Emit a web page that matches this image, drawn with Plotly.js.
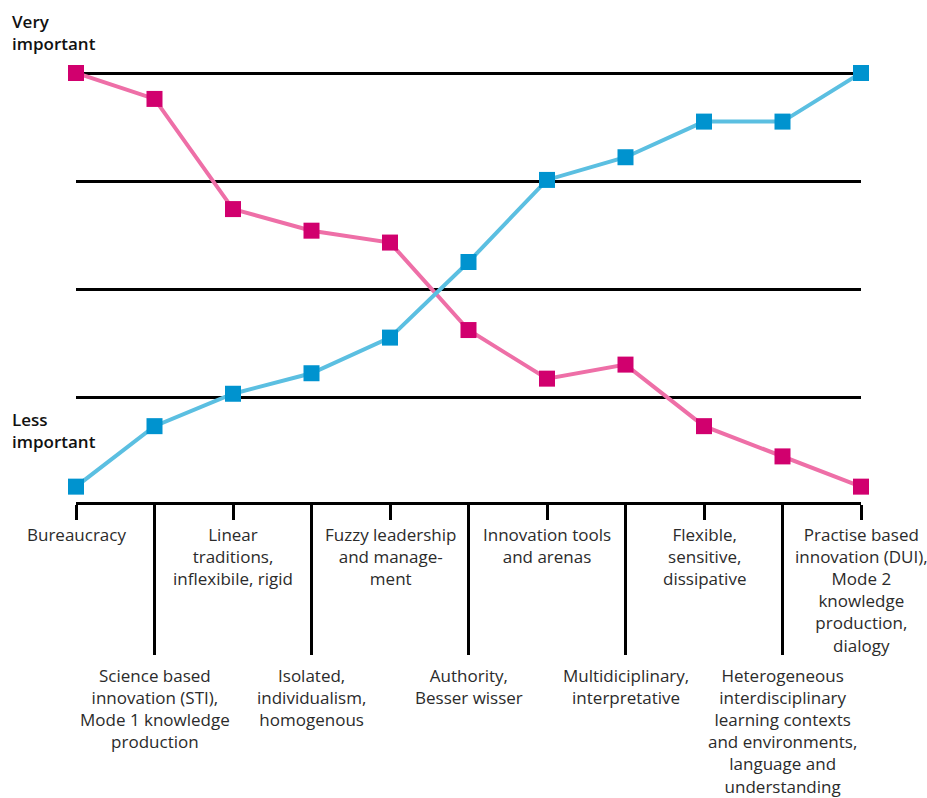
<!DOCTYPE html>
<html><head><meta charset="utf-8">
<script src="https://cdn.plot.ly/plotly-3.0.1.min.js"></script>
<style>html,body{margin:0;padding:0;background:#fff;}#chart{width:927px;height:798px;}</style>
</head><body><div id="chart"></div>
<script>
const categories = [
  "Bureaucracy",
  "Science based<br>innovation (STI),<br>Mode 1 knowledge<br>production",
  "Linear<br>traditions,<br>inflexibile, rigid",
  "Isolated,<br>individualism,<br>homogenous",
  "Fuzzy leadership<br>and manage-<br>ment",
  "Authority,<br>Besser wisser",
  "Innovation tools<br>and arenas",
  "Multidiciplinary,<br>interpretative",
  "Flexible,<br>sensitive,<br>dissipative",
  "Heterogeneous<br>interdisciplinary<br>learning contexts<br>and environments,<br>language and<br>understanding",
  "Practise based<br>innovation (DUI),<br>Mode 2<br>knowledge<br>production,<br>dialogy"
];
const positions = [0,1,2,3,4,5,6,7,8,9,10];
const pinkValues = [4.0, 3.76, 2.74, 2.54, 2.43, 1.62, 1.17, 1.30, 0.73, 0.45, 0.17];
const blueValues = [0.17, 0.73, 1.03, 1.22, 1.55, 2.25, 3.01, 3.22, 3.55, 3.55, 4.0];
const levelTicks = [1, 2, 3, 4];
const topLabel = "Very<br>important";
const bottomLabel = "Less<br>important";

const FONT = "'Open Sans', Roboto, sans-serif";
const TXT = "#2b2b2b";
const PX = 108;            // pixels per level
const TOP_PAD = 3;         // px of headroom above top level so its gridline draws

const traces = [
  {x: positions, y: pinkValues, mode: "lines+markers", cliponaxis: false,
   line: {color: "#ee6fa7", width: 4},
   marker: {symbol: "square", size: 16, color: "#d1006e", line: {width: 0}},
   hoverinfo: "skip"},
  {x: positions, y: blueValues, mode: "lines+markers", cliponaxis: false,
   line: {color: "#5bbfe1", width: 4},
   marker: {symbol: "square", size: 16, color: "#0093cf", line: {width: 0}},
   hoverinfo: "skip"},
  {x: positions.filter(p => p % 2 === 1), y: positions.filter(p => p % 2 === 1).map(() => null),
   xaxis: "x2", yaxis: "y", mode: "markers", showlegend: false, hoverinfo: "skip"}
];

const plotTop = 73 - TOP_PAD, plotBottom = 502;
const pxX = v => (v - 76) / (861 - 76);
const pxY = v => (plotBottom - v) / (plotBottom - plotTop);

const annotations = [];
positions.forEach((p, i) => {
  annotations.push({
    x: p, xref: "x", y: pxY((i % 2 === 0) ? 521 : 662), yref: "paper",
    yanchor: "top", xanchor: "center", showarrow: false, align: "center",
    text: categories[i], font: {family: FONT, size: 17, color: TXT}
  });
});
annotations.push({x: pxX(10), xref: "paper", xanchor: "left", y: pxY(8), yref: "paper", yanchor: "top",
  text: topLabel, showarrow: false, align: "left", font: {family: FONT, size: 17, color: "#111", weight: 600}});
annotations.push({x: pxX(10), xref: "paper", xanchor: "left", y: pxY(406), yref: "paper", yanchor: "top",
  text: bottomLabel, showarrow: false, align: "left", font: {family: FONT, size: 17, color: "#111", weight: 600}});

const layout = {
  width: 927, height: 798,
  margin: {l: 76, r: 66, t: plotTop, b: 798 - plotBottom},
  paper_bgcolor: "#fff", plot_bgcolor: "#fff",
  showlegend: false,
  xaxis: {range: [0, 10], showgrid: false, zeroline: false, showline: true, linecolor: "#000", linewidth: 3,
    ticks: "outside", ticklen: 15, tickwidth: 3, tickcolor: "#000",
    tickvals: positions.filter(p => p % 2 === 0), showticklabels: false, fixedrange: true},
  xaxis2: {range: [0, 10], overlaying: "x", side: "bottom", anchor: "y", showgrid: false, zeroline: false,
    showline: false, ticks: "outside", ticklen: 152, tickwidth: 3, tickcolor: "#000",
    tickvals: positions.filter(p => p % 2 === 1), showticklabels: false, fixedrange: true},
  yaxis: {range: [4 - 429/PX, 4 + TOP_PAD/PX], tickvals: levelTicks, showgrid: true, gridcolor: "#000", gridwidth: 3,
    showticklabels: false, zeroline: false, showline: false, ticks: "", fixedrange: true},
  annotations: annotations
};
Plotly.newPlot("chart", traces, layout, {displayModeBar: false, staticPlot: true});
</script>
</body></html>
